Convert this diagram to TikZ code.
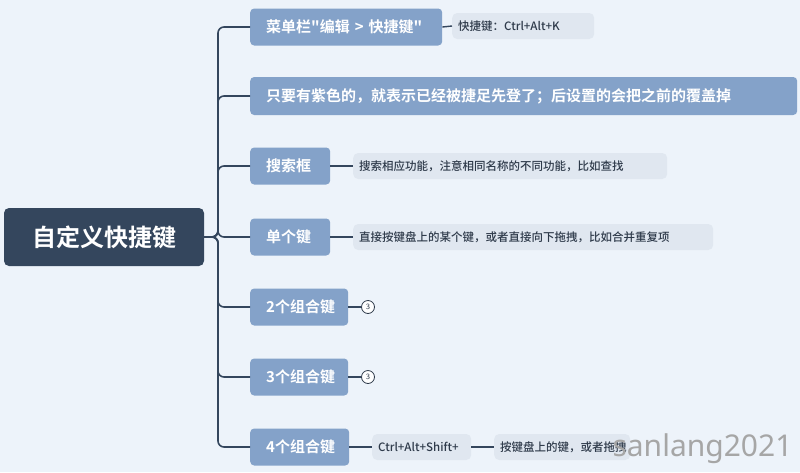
\documentclass[tikz,border=0pt]{standalone}
\usepackage{fontspec}
\newfontfamily\cjk{Noto Sans CJK SC Medium}
\newfontfamily\cjkb{Noto Sans CJK SC Bold}
\begin{document}
\begin{tikzpicture}[x=1pt,y=-1pt,
  br/.style={fill=br, rounded corners=4pt, text=white, font=\cjkb\fontsize{15}{15}\selectfont, inner xsep=16pt, inner ysep=0pt, anchor=west, minimum height=37pt, align=left},
  sub/.style={fill=sb, rounded corners=5pt, text=txt, font=\cjk\fontsize{11.5}{12}\selectfont, inner xsep=6pt, inner ysep=0pt, anchor=west, minimum height=26pt, align=left},
  circ/.style={circle, draw=txt, line width=0.8pt, fill=white, inner sep=0pt, minimum size=13pt, font=\sffamily\fontsize{8}{8}\selectfont, text=txt}]
\definecolor{bg}{HTML}{EDF3FA}\definecolor{br}{HTML}{84A2C9}\definecolor{sb}{HTML}{E0E7F0}\definecolor{txt}{HTML}{2E3A4A}\definecolor{rt}{HTML}{34465D}
\colorlet{ln}{rt}
\fill[bg] (0,0) rectangle (800,472);
\useasboundingbox (0,0) rectangle (800,472);
\node[fill=rt, rounded corners=5pt, text=white, font=\cjkb\fontsize{24}{24}\selectfont, minimum width=200pt, minimum height=58pt, inner sep=0pt] (root) at (104,237) {自定义快捷键};
\node[br, text width=160pt] (b1) at (250,27) {菜单栏"编辑 > 快捷键"};
\node[br, text width=515pt, minimum height=38pt] (b2) at (250,96) {只要有紫色的，就表示已经被捷足先登了；后设置的会把之前的覆盖掉};
\node[br, text width=48pt] (b3) at (250,166) {搜索框};
\node[br, text width=48pt] (b4) at (250,237) {单个键};
\node[br, text width=66pt] (b5) at (250,307) {2个组合键};
\node[br, text width=66pt] (b6) at (250,377) {3个组合键};
\node[br, text width=67pt] (b7) at (250,447) {4个组合键};
\coordinate (sp) at (218,237);
\foreach \i in {1,...,7}{\draw[ln, line width=1.6pt, rounded corners=6pt] (root.east) -- (sp) |- (b\i.west);}
\node[sub, text width=130pt] (s1) at (452,26) {快捷键：Ctrl+Alt+K};
\node[sub, text width=302pt] (s3) at (353,166) {搜索相应功能，注意相同名称的不同功能，比如查找};
\node[sub, text width=348pt] (s4) at (353,237) {直接按键盘上的某个键，或者直接向下拖拽，比如合并重复项};
\node[sub, text width=87pt] (s7) at (372,447) {Ctrl+Alt+Shift+};
\node[sub, text width=124pt] (s8) at (494,447) {按键盘上的键，或者拖拽};
\foreach \a/\b in {b1/s1,b3/s3,b4/s4,b7/s7,s7/s8}{\draw[ln, line width=1.4pt] (\a.east) -- (\b.west);}
\node[circ] (c5) at (368,307) {3};
\node[circ] (c6) at (368,377) {3};
\draw[ln, line width=1.2pt] (b5.east) -- (c5.west);
\draw[ln, line width=1.2pt] (b6.east) -- (c6.west);
\node[font=\fontspec{Noto Sans}\fontsize{30}{30}\selectfont, text=gray!70, anchor=east] (wm) at (796,449) {sanlang2021};
\end{tikzpicture}
\end{document}
